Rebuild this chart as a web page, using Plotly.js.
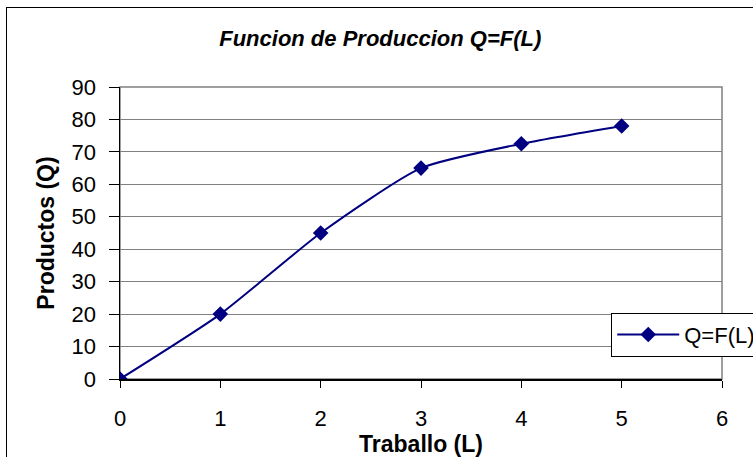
<!DOCTYPE html>
<html>
<head>
<meta charset="utf-8">
<script src="https://cdn.plot.ly/plotly-3.0.1.min.js"></script>
<style>
html,body{margin:0;padding:0;background:#fff;overflow:hidden;}
#chart{width:753px;height:457px;position:absolute;left:0;top:0;}
#frame{position:absolute;left:6px;top:7px;width:800px;height:500px;border:1.5px solid #000;pointer-events:none;}
</style>
</head>
<body>
<div id="chart"></div>
<div id="frame"></div>
<script>
var trabajo = [0, 1, 2, 3, 4, 5];
var productos = [0, 20, 45, 65, 72.5, 78];
var xTicks = [0, 1, 2, 3, 4, 5, 6];
var yTicks = [0, 10, 20, 30, 40, 50, 60, 70, 80, 90];
var serieNombre = 'Q=F(L)';

var font = 'Liberation Sans, Arial, sans-serif';
var trace = {
  x: trabajo, y: productos, name: serieNombre,
  type: 'scatter', mode: 'lines+markers',
  line: {color: '#000080', width: 2, shape: 'spline', smoothing: 0.6},
  marker: {symbol: 'diamond', size: 12, color: '#000080'}
};
var layout = {
  width: 753, height: 457,
  margin: {l: 120, r: 31, t: 87, b: 77.5, autoexpand: false},
  paper_bgcolor: '#fff', plot_bgcolor: '#fff',
  title: {text: '<b><i>Funcion de Produccion Q=F(L)</i></b>', font: {family: font, size: 22, color: '#000'},
          x: 0.505, xanchor: 'center', y: 0.917, yanchor: 'middle'},
  xaxis: {range: [0, 6], tickvals: xTicks, ticktext: xTicks.map(String), showgrid: false, zeroline: false,
          showline: true, linecolor: '#000', linewidth: 1.5, ticks: 'outside', ticklen: 7, tickcolor: '#000',
          tickfont: {family: font, size: 22, color: '#000'}, ticklabelstandoff: 12,
          title: {text: '<b>Traballo (L)</b>', font: {family: font, size: 23, color: '#000'}, standoff: 0}},
  yaxis: {range: [0, 90], tickvals: yTicks, ticktext: yTicks.map(String), showgrid: true, gridcolor: '#808080', gridwidth: 1,
          zeroline: false, showline: true, linecolor: '#000', linewidth: 1.5, ticks: 'outside', ticklen: 10, tickcolor: '#000',
          tickfont: {family: font, size: 22, color: '#000'}, ticklabelstandoff: 8,
          title: {text: '<b>Productos (Q)</b>', font: {family: font, size: 23, color: '#000'}, standoff: 10}},
  showlegend: true,
  legend: {x: 0.816, y: 0.227, xanchor: 'left', yanchor: 'top', bgcolor: '#fff', bordercolor: '#000', borderwidth: 1,
           font: {family: font, size: 22, color: '#000'}, itemwidth: 62},
  shapes: [{type: 'rect', xref: 'paper', yref: 'paper', x0: 0, x1: 1, y0: 0, y1: 1, line: {color: '#808080', width: 1.5}, layer: 'below'}]
};
Plotly.newPlot('chart', [trace], layout, {displayModeBar: false, staticPlot: true});
</script>
</body>
</html>
